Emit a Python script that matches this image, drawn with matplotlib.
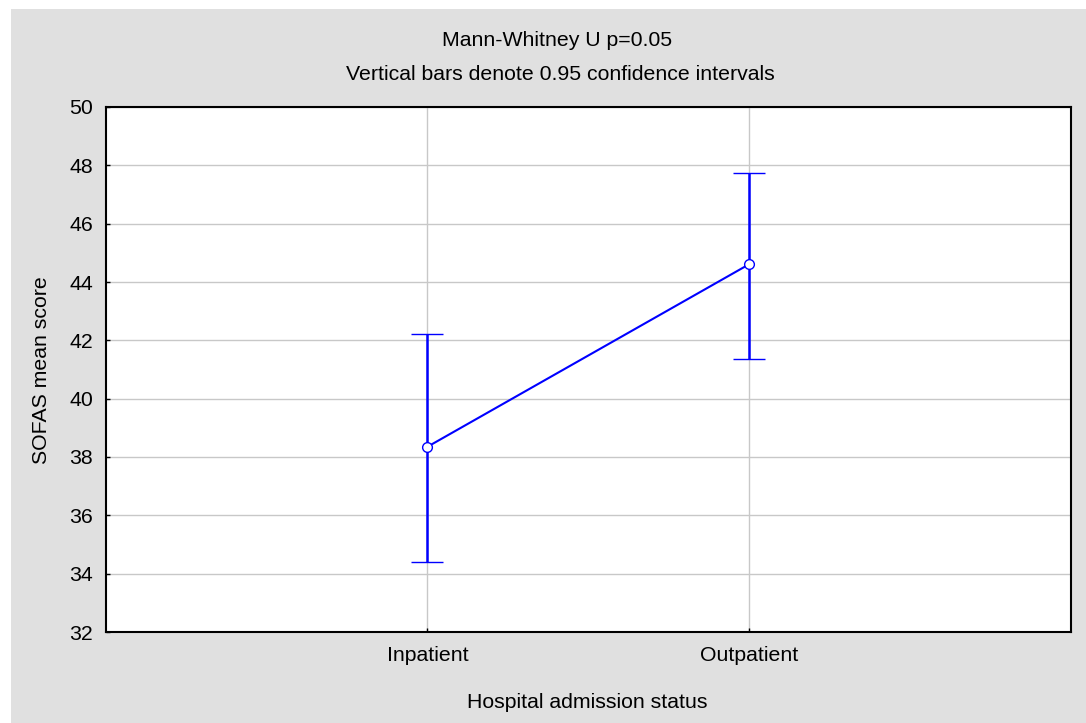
import numpy as np
import matplotlib.pyplot as plt
from matplotlib.patches import Rectangle

# group means with 0.95 confidence limits
groups = ['Inpatient', 'Outpatient']
means = [38.35, 44.61]
ci_low = [34.40, 41.36]
ci_high = [42.23, 47.73]
yticks = [32, 34, 36, 38, 40, 42, 44, 46, 48, 50]

plt.rcParams['font.family'] = ['Liberation Sans', 'DejaVu Sans']
FS = 15.3
W, H = 1086, 723
fig = plt.figure(figsize=(W / 100, H / 100), dpi=100, facecolor='white')

# grey panel behind the plot (white strip on top and left)
fig.patches.append(Rectangle((11 / W, 0), 1 - 11 / W, 1 - 9 / H,
                             transform=fig.transFigure, facecolor='#e0e0e0',
                             edgecolor='none', zorder=-1))

ax = fig.add_axes([105.6 / W, 1 - 632 / H, (1071 - 105.6) / W, (632 - 107) / H])
ax.set_facecolor('white')

x = np.arange(1, len(groups) + 1)
m = np.array(means)
err = np.array([m - np.array(ci_low), np.array(ci_high) - m])

ax.errorbar(x, m, yerr=err, color='#0000ff', lw=1.5, elinewidth=1.8,
            capsize=11.5, capthick=1.8, marker='o', markersize=7,
            markerfacecolor='white', markeredgecolor='#0000ff',
            markeredgewidth=1.0, zorder=3)

ax.set_xlim(0, len(groups) + 1)
ax.set_ylim(32, 50)
ax.set_xticks(x)
ax.set_xticklabels(groups)
ax.set_yticks(yticks)
ax.grid(True, color='#c8c8c8', lw=1.0)
ax.set_axisbelow(True)
ax.tick_params(axis='both', direction='in', length=3, width=1, labelsize=FS,
               colors='black')
ax.tick_params(axis='y', pad=9)
ax.tick_params(axis='x', pad=10)
for s in ax.spines.values():
    s.set_linewidth(1.5)
    s.set_color('black')

fig.text(557 / W, 1 - 40 / H, 'Mann-Whitney U p=0.05',
         ha='center', va='center', fontsize=FS)
fig.text(560 / W, 1 - 74 / H,
         'Vertical bars denote 0.95 confidence intervals',
         ha='center', va='center', fontsize=FS)
fig.text(587 / W, 1 - 703 / H, 'Hospital admission status',
         ha='center', va='center', fontsize=FS)
fig.text(42 / W, 1 - 370 / H, 'SOFAS mean score', rotation=90,
         ha='center', va='center', fontsize=FS)

fig.savefig('out.png', dpi=100)
